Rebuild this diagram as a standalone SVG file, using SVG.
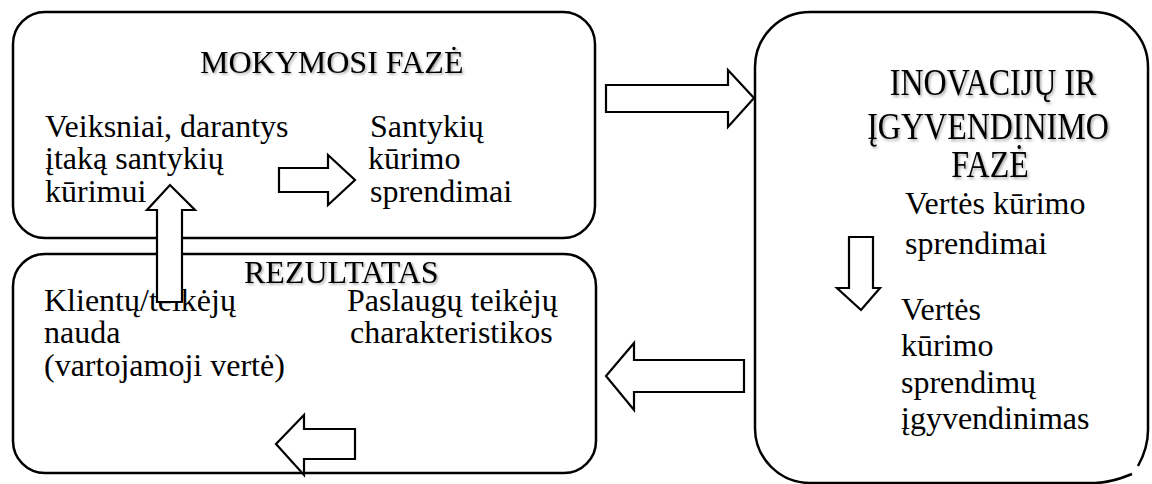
<svg xmlns="http://www.w3.org/2000/svg" width="1152" height="484" viewBox="0 0 1152 484">
<defs>
<style>
.box{fill:none;stroke:#000;stroke-width:2.5}
.arr{fill:#fff;stroke:#000;stroke-width:2.2;stroke-linejoin:miter}
.title{filter:url(#sh)}
</style>
<filter id="sh" x="-10%" y="-30%" width="120%" height="160%">
<feDropShadow dx="1.5" dy="1.5" stdDeviation="1.2" flood-color="#000" flood-opacity="0.35"/>
</filter>
</defs>
<rect width="1152" height="484" fill="#fff"/>
<g font-family="Liberation Serif, DejaVu Serif, serif" font-size="32" fill="#000">
<g id="mokymosi">
<rect class="box" x="13" y="12" width="582" height="226" rx="32" ry="32"/>
<text class="title" x="200" y="73">MOKYMOSI FAZĖ</text>
<text x="45" y="137">Veiksniai, darantys</text>
<text x="45" y="169">įtaką santykių</text>
<text x="45" y="202">kūrimui</text>
<text x="370" y="137">Santykių</text>
<text x="368" y="169">kūrimo</text>
<text x="370" y="202">sprendimai</text>
</g>
<g id="rezultatas">
<rect class="box" x="13" y="254" width="583" height="219" rx="32" ry="32"/>
<text class="title" x="244" y="283">REZULTATAS</text>
<text x="44" y="311">Klientų/teikėjų</text>
<text x="44" y="343">nauda</text>
<text x="44" y="376">(vartojamoji vertė)</text>
<text x="347" y="311">Paslaugų teikėjų</text>
<text x="350" y="343">charakteristikos</text>
</g>
<g id="inovaciju">
<path class="box" d="M1132,474 Q1110,483 1095,483 L810,483 A55,55 0 0 1 755,428 L755,67 A55,55 0 0 1 810,12 L1093,12 A55,55 0 0 1 1148,67 L1148,430 Q1148,448 1138,466"/>
<text class="title" transform="translate(993,95) scale(1,1.18)" text-anchor="middle">INOVACIJŲ IR</text>
<text class="title" transform="translate(988,139) scale(1,1.18)" text-anchor="middle">ĮGYVENDINIMO</text>
<text class="title" transform="translate(990,177) scale(1,1.18)" text-anchor="middle">FAZĖ</text>
<text x="905" y="214">Vertės kūrimo</text>
<text x="905" y="254">sprendimai</text>
<text x="901" y="320">Vertės</text>
<text x="901" y="356">kūrimo</text>
<text x="901" y="393">sprendimų</text>
<text x="901" y="429">įgyvendinimas</text>
</g>
</g>
<g id="connectors">
<path class="arr" d="M606,85 L728,85 L728,70 L754,98 L728,127 L728,112 L606,112 Z"/>
<path class="arr" d="M744,360 L634,360 L634,343 L606,376 L634,410 L634,392 L744,392 Z"/>
<path class="arr" d="M182,302 L182,210 L195,210 L170,185 L147,210 L157,210 L157,302 Z"/>
<path class="arr" d="M279,168 L328,168 L328,155 L355,180 L328,205 L328,192 L279,192 Z"/>
<path class="arr" d="M849,237 L873,237 L873,288 L880,288 L861,310 L837,288 L849,288 Z"/>
<path class="arr" d="M355,429 L304,429 L304,415 L276,444 L304,475 L304,459 L355,459 Z"/>
</g>
</svg>
